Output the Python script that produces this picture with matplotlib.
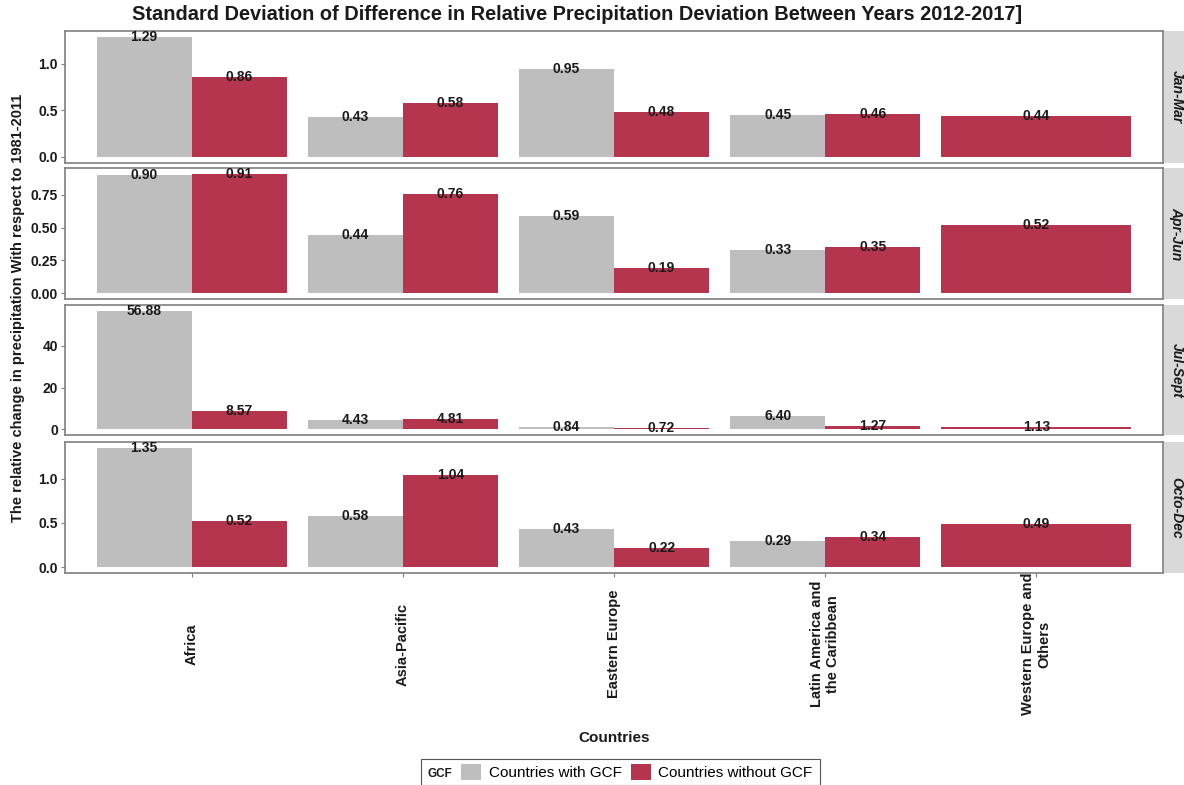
#!/usr/bin/env python3
"""Standard deviation of difference in relative precipitation deviation - faceted bars"""

import matplotlib.pyplot as plt
from matplotlib.patches import Patch, Rectangle
from matplotlib.transforms import blended_transform_factory
import numpy as np

plt.rcParams['font.family'] = ['Liberation Sans', 'DejaVu Sans']

regions = ['Africa', 'Asia-Pacific', 'Eastern Europe',
           'Latin America and\nthe Caribbean', 'Western Europe and\nOthers']
seasons = ['Jan-Mar', 'Apr-Jun', 'Jul-Sept', 'Octo-Dec']

# None = no "with GCF" bar for that region
with_gcf = [
    [1.29, 0.43, 0.95, 0.45, None],
    [0.90, 0.44, 0.59, 0.33, None],
    [56.88, 4.43, 0.84, 6.40, None],
    [1.35, 0.58, 0.43, 0.29, None],
]
without_gcf = [
    [0.86, 0.58, 0.48, 0.46, 0.44],
    [0.91, 0.76, 0.19, 0.35, 0.52],
    [8.57, 4.81, 0.72, 1.27, 1.13],
    [0.52, 1.04, 0.22, 0.34, 0.49],
]
yticks = [[0.0, 0.5, 1.0], [0.0, 0.25, 0.5, 0.75], [0, 20, 40], [0.0, 0.5, 1.0]]
ytick_fmt = ['{:.1f}', '{:.2f}', '{:.0f}', '{:.1f}']

gray = '#BEBEBE'
red = '#B5354F'
border = '#7F7F7F'
ink = '#1a1a1a'

W, H = 1184, 785
fig = plt.figure(figsize=(W / 100, H / 100), dpi=100, facecolor='white')

left_px, right_px = 65, 1163
panels_px = [(31, 163), (168, 299), (305, 435), (442, 573)]
width = 0.9
x = np.arange(len(regions))


def label(ax, xpos, val):
    ax.text(xpos, val, f'{val:.2f}', ha='center', va='center',
            fontsize=10, fontweight='bold', color=ink)


axes = []
for i, (top, bot) in enumerate(panels_px):
    ax = fig.add_axes([left_px / W, 1 - bot / H, (right_px - left_px) / W, (bot - top) / H])
    axes.append(ax)
    for j in range(len(regions)):
        w = with_gcf[i][j]
        wo = without_gcf[i][j]
        if w is None:
            ax.bar(x[j], wo, width=width, color=red)
            label(ax, x[j], wo)
        else:
            ax.bar(x[j] - width / 4, w, width=width / 2, color=gray)
            ax.bar(x[j] + width / 4, wo, width=width / 2, color=red)
            label(ax, x[j] - width / 4, w)
            label(ax, x[j] + width / 4, wo)
    vmax = max(v for v in with_gcf[i] + without_gcf[i] if v is not None)
    ax.set_ylim(-0.05 * vmax, vmax * 1.05)
    ax.set_xlim(-0.6, len(regions) - 0.4)
    ax.set_yticks(yticks[i])
    ax.set_yticklabels([ytick_fmt[i].format(t) for t in yticks[i]])
    ax.tick_params(axis='y', colors=border, labelcolor=ink, labelsize=10,
                   length=3, width=0.8, pad=2)
    for lab in ax.get_yticklabels():
        lab.set_fontweight('bold')
    ax.set_xticks(x)
    if i < 3:
        ax.tick_params(axis='x', bottom=False, labelbottom=False)
    else:
        ax.tick_params(axis='x', colors=border, length=3, width=0.8, labelbottom=False)
    for s in ax.spines.values():
        s.set_color(border)
        s.set_linewidth(1.2)

    # facet strip on the right
    sax = fig.add_axes([(right_px + 1) / W, 1 - bot / H, (W - right_px - 1) / W, (bot - top) / H])
    sax.set_facecolor('#D9D9D9')
    sax.set_xticks([])
    sax.set_yticks([])
    for s in sax.spines.values():
        s.set_visible(False)
    sax.text(0.62, 0.5, seasons[i], rotation=-90, ha='center', va='center',
             transform=sax.transAxes, fontsize=10, fontweight='bold',
             fontstyle='italic', color=ink)

# rotated region labels under the bottom panel
trans = blended_transform_factory(axes[-1].transData, fig.transFigure)
for j, lab in enumerate(regions):
    axes[-1].text(x[j], 1 - 644 / H, lab, rotation=90, ha='center', va='center',
                  multialignment='center', fontsize=10.5, fontweight='bold',
                  color=ink, transform=trans)

fig.suptitle('Standard Deviation of Difference in Relative Precipitation Deviation Between Years 2012-2017]',
             x=577 / W, y=1 - 15 / H, va='center', fontsize=14.4, fontweight='bold', color=ink)
fig.text(18 / W, 1 - 308 / H, 'The relative change in precipitation With respect to 1981-2011',
         rotation=90, ha='center', va='center', fontsize=10.5, fontweight='bold', color=ink)
fig.text(614 / W, 1 - 738 / H, 'Countries', ha='center', va='center',
         fontsize=11, fontweight='bold', color=ink)

# legend with "GCF" title placed on the left
handles = [Patch(facecolor=gray, label='Countries with GCF'),
           Patch(facecolor=red, label='Countries without GCF')]
leg = fig.legend(handles=handles, loc='center', bbox_to_anchor=(637 / W, 1 - 772 / H),
                 ncol=2, frameon=False, fontsize=11, handlelength=1.3, handleheight=1.3,
                 handletextpad=0.5, columnspacing=0.6, borderpad=0.2)
fig.canvas.draw()
bb = leg.get_window_extent()
gcf_txt = fig.text((bb.x0 - 6) / W, (bb.y0 + bb.y1) / 2 / H - 0.002, 'GCF', ha='right', va='center',
                   fontsize=8.5, fontweight='bold', color=ink)
fig.canvas.draw()
tb = gcf_txt.get_window_extent()
fig.patches.append(Rectangle(((tb.x0 - 7) / W, (bb.y0 - 2) / H), (bb.x1 - tb.x0 + 11) / W,
                             (bb.y1 - bb.y0 + 4) / H, transform=fig.transFigure,
                             fill=False, edgecolor='#555555', linewidth=0.8))

plt.savefig('out.png', dpi=100, facecolor='white')
